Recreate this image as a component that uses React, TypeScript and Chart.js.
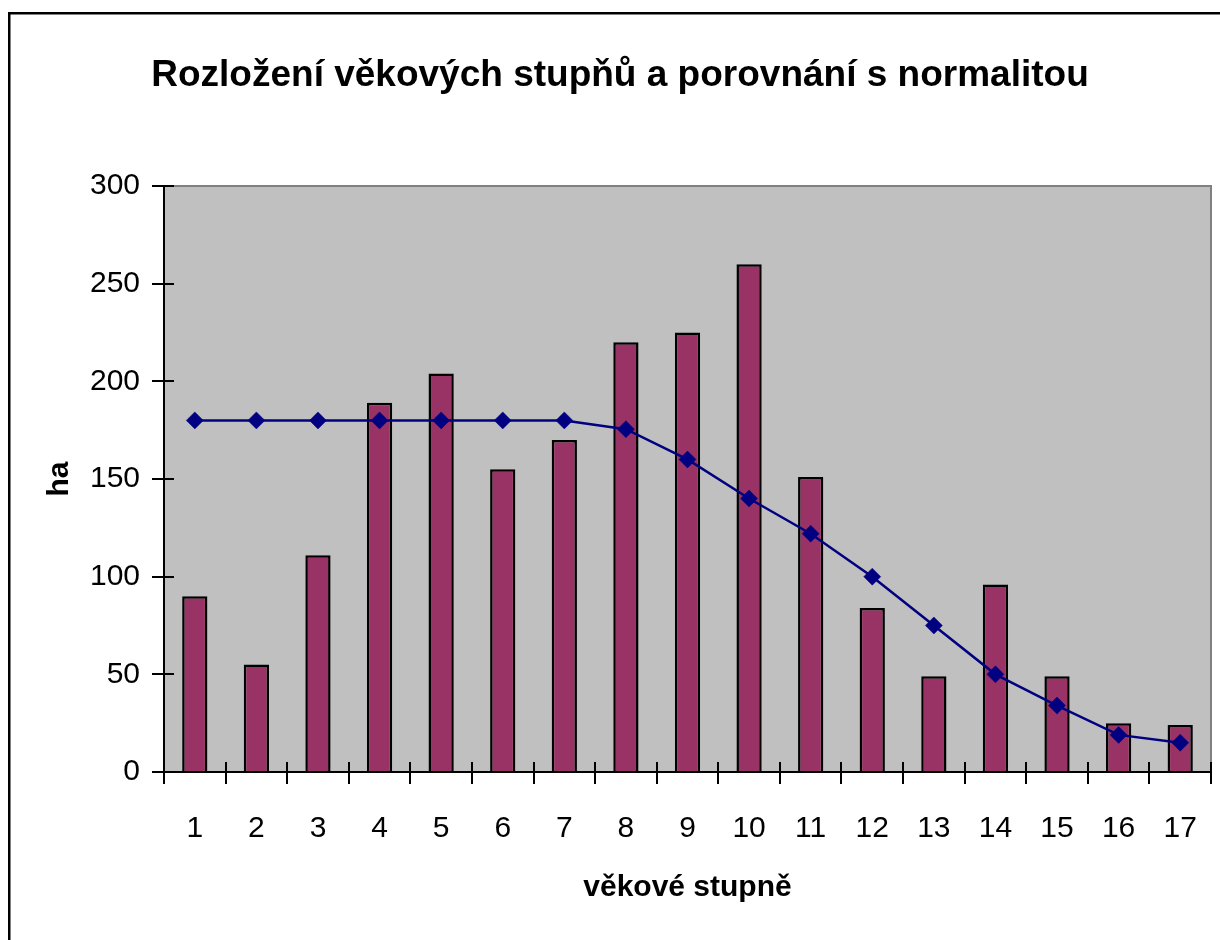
import React, { useEffect, useRef } from "react";
import { Chart, registerables } from "chart.js";

Chart.register(...registerables);

const categories = ["1", "2", "3", "4", "5", "6", "7", "8", "9", "10", "11", "12", "13", "14", "15", "16", "17"];
const areaValues = [90, 55, 111, 189, 204, 155, 170, 220, 225, 260, 151, 84, 49, 96, 49, 25, 24];
const normalValues = [180, 180, 180, 180, 180, 180, 180, 175.5, 160, 140, 122, 100, 75, 50, 34, 19, 15];
const yMin = 0;
const yMax = 300;
const yStep = 50;

const titleText = "Rozložení věkových stupňů a porovnání s normalitou";
const xTitle = "věkové stupně";
const yTitle = "ha";

const FONT = "'Liberation Sans', Arial, Helvetica, sans-serif";

const W = 1220;
const H = 940;

const framePlugin = {
  id: "framePlugin",
  beforeDraw(chart: any) {
    const { ctx, chartArea } = chart;
    ctx.save();
    ctx.fillStyle = "#ffffff";
    ctx.fillRect(0, 0, chart.width, chart.height);
    ctx.fillStyle = "#000000";
    ctx.fillRect(8, 12, 2.5, chart.height - 12);
    ctx.fillRect(8, 12, chart.width - 8, 2.5);
    ctx.fillStyle = "#C0C0C0";
    ctx.fillRect(chartArea.left, chartArea.top, chartArea.right - chartArea.left, chartArea.bottom - chartArea.top);
    ctx.strokeStyle = "#808080";
    ctx.lineWidth = 2;
    ctx.beginPath();
    ctx.moveTo(chartArea.left, chartArea.top);
    ctx.lineTo(chartArea.right, chartArea.top);
    ctx.lineTo(chartArea.right, chartArea.bottom);
    ctx.stroke();
    ctx.restore();
  },
  afterDraw(chart: any) {
    const { ctx, chartArea } = chart;
    const xs = chart.scales.x;
    const ys = chart.scales.y;
    ctx.save();
    ctx.strokeStyle = "#000000";
    ctx.lineWidth = 2;
    ctx.beginPath();
    for (let i = 0; i <= categories.length; i++) {
      const px = Math.round(xs.getPixelForValue(i - 0.5));
      ctx.moveTo(px, chartArea.bottom);
      ctx.lineTo(px, chartArea.bottom - 10);
    }
    for (let v = yMin; v <= yMax; v += yStep) {
      const py = Math.round(ys.getPixelForValue(v));
      ctx.moveTo(chartArea.left, py);
      ctx.lineTo(chartArea.left + 10, py);
    }
    ctx.stroke();
    ctx.restore();
  },
};

export default function App() {
  const ref = useRef<HTMLCanvasElement | null>(null);

  useEffect(() => {
    if (!ref.current) return;
    const chart = new Chart(ref.current, {
      type: "bar",
      data: {
        labels: categories,
        datasets: [
          {
            type: "line",
            label: "normalita",
            data: normalValues,
            borderColor: "#000080",
            backgroundColor: "#000080",
            borderWidth: 2.5,
            tension: 0,
            pointStyle: "rectRot",
            pointRadius: 8.5,
            pointBorderWidth: 0.5,
            pointBackgroundColor: "#000080",
            pointBorderColor: "#000080",
            clip: false,
            order: 0,
          } as any,
          {
            type: "bar",
            label: "ha",
            data: areaValues,
            backgroundColor: "#993366",
            borderColor: "#000000",
            borderWidth: 2.5,
            borderSkipped: "start",
            barPercentage: 0.41,
            categoryPercentage: 1,
            order: 1,
          } as any,
        ],
      },
      options: {
        animation: false,
        responsive: false,
        maintainAspectRatio: false,
        layout: { autoPadding: false, padding: { left: 29, right: 9, top: 0, bottom: 0 } },
        plugins: {
          legend: { display: false },
          tooltip: { enabled: false },
          title: {
            display: true,
            text: titleText,
            color: "#000000",
            font: { family: FONT, size: 37, weight: "bold", lineHeight: 1.2 },
            padding: { top: 54, bottom: 87.6 },
          },
        },
        scales: {
          x: {
            type: "category",
            offset: true,
            z: 1,
            grid: {
              display: true,
              offset: true,
              drawOnChartArea: false,
              drawTicks: true,
              tickLength: 12,
              color: "#000000",
              lineWidth: 2,
            },
            border: { display: true, color: "#000000", width: 2 },
            ticks: {
              color: "#000000",
              font: { family: FONT, size: 30, lineHeight: 1.533 },
              padding: 22,
              maxRotation: 0,
              autoSkip: false,
            },
            title: {
              display: true,
              text: xTitle,
              color: "#000000",
              font: { family: FONT, size: 30, weight: "bold", lineHeight: 1.2 },
              padding: { top: 0, bottom: 34 },
            },
            afterFit(scale: any) {
              scale.height = H - 772;
            },
          },
          y: {
            min: yMin,
            max: yMax,
            z: 1,
            grid: {
              display: true,
              drawOnChartArea: false,
              drawTicks: true,
              tickLength: 12,
              color: "#000000",
              lineWidth: 2,
            },
            border: { display: true, color: "#000000", width: 2 },
            ticks: {
              stepSize: yStep,
              color: "#000000",
              font: { family: FONT, size: 30 },
              padding: 12,
            },
            title: {
              display: true,
              text: yTitle,
              color: "#000000",
              font: { family: FONT, size: 30, weight: "bold", lineHeight: 1.2 },
              padding: { top: 13, bottom: 0 },
            },
            afterFit(scale: any) {
              scale.width = 164 - 29;
            },
          },
        },
      },
      plugins: [framePlugin],
    });
    return () => chart.destroy();
  }, []);

  return (
    <div style={{ position: "fixed", left: 0, top: 0, width: W, height: H, overflow: "hidden" }}>
      <canvas ref={ref} width={W} height={H} style={{ display: "block", width: W, height: H }} />
    </div>
  );
}
